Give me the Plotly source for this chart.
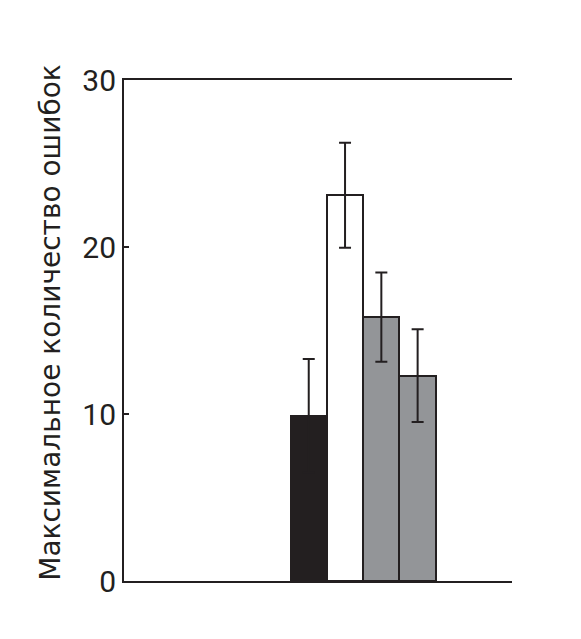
import plotly.graph_objects as go

categories = ["Группа 1", "Группа 2", "Группа 3", "Группа 4"]
values = [9.9, 23.1, 15.8, 12.3]
errors = [3.4, 3.15, 2.67, 2.78]
bar_colors = ["#231f20", "#ffffff", "#939598", "#939598"]
y_ticks = [0, 10, 20, 30]
y_title = "Максимальное количество ошибок"

INK = "#231f20"

fig = go.Figure()
fig.add_trace(go.Bar(
    x=categories, y=values,
    marker=dict(color=bar_colors, line=dict(color=INK, width=2)),
    error_y=dict(type="data", array=errors, visible=True, color=INK, thickness=2, width=6),
    width=1.0,
    showlegend=False,
))

fig.update_layout(
    width=573, height=631,
    margin=dict(l=116, r=69, t=72, b=58),
    paper_bgcolor="white", plot_bgcolor="white",
    bargap=0,
    font=dict(family="Roboto", color=INK),
    xaxis=dict(
        type="category", range=[-5.09, 5.6],
        showline=True, mirror=True, linecolor=INK, linewidth=2,
        showticklabels=False, ticks="", showgrid=False, zeroline=False,
    ),
    yaxis=dict(
        range=[0, 30], tickvals=y_ticks, ticktext=[str(t) for t in y_ticks],
        showline=True, linecolor=INK, linewidth=2,
        ticks="inside", ticklen=5, tickwidth=1.5, tickcolor=INK,
        tickfont=dict(size=30, family="Roboto", color=INK),
        showgrid=False, zeroline=False,
    ),
    annotations=[dict(
        text=y_title, textangle=-90, showarrow=False,
        xref="paper", yref="paper", x=-0.19, y=0.516,
        xanchor="center", yanchor="middle",
        font=dict(size=28, family="DejaVu Sans", color=INK),
    )],
)

fig.write_html("out.html")
